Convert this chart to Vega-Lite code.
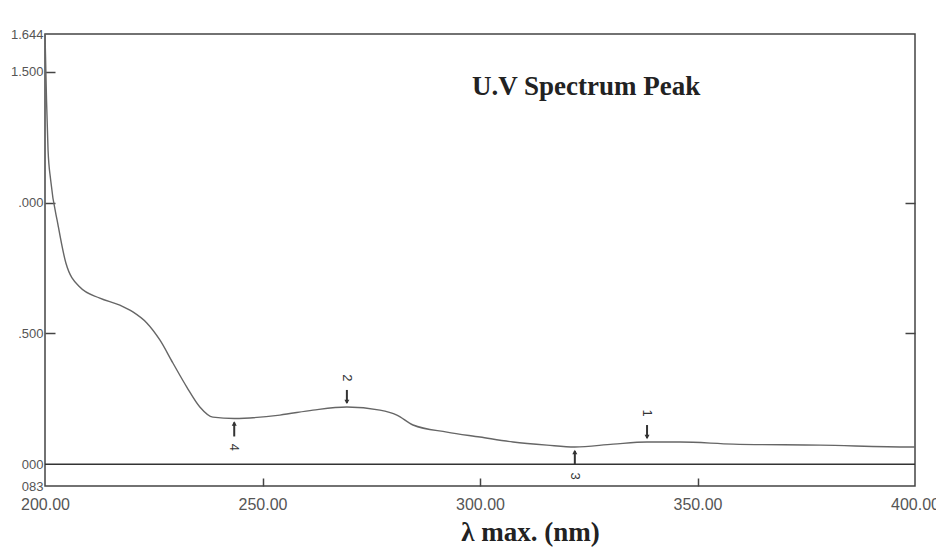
{
  "$schema": "https://vega.github.io/schema/vega-lite/v6.json",
  "width": 870,
  "height": 452,
  "autosize": {"type": "none"},
  "padding": {"left": 45, "top": 34, "right": 21, "bottom": 61},
  "background": "white",
  "title": {
    "text": "U.V Spectrum Peak",
    "anchor": "start",
    "frame": "group",
    "dx": 427,
    "dy": 77,
    "font": "Liberation Serif",
    "fontSize": 27,
    "fontWeight": "bold",
    "color": "#222"
  },
  "datasets": {
    "spectrum": [
      {"wl": 200.0, "abs": 1.644},
      {"wl": 200.35, "abs": 1.392},
      {"wl": 200.7, "abs": 1.201},
      {"wl": 201.3, "abs": 1.086},
      {"wl": 203.0, "abs": 0.914},
      {"wl": 204.8, "abs": 0.769},
      {"wl": 208.0, "abs": 0.677},
      {"wl": 212.6, "abs": 0.635},
      {"wl": 217.2, "abs": 0.608},
      {"wl": 220.2, "abs": 0.582},
      {"wl": 223.4, "abs": 0.540},
      {"wl": 226.4, "abs": 0.475},
      {"wl": 229.4, "abs": 0.387},
      {"wl": 232.6, "abs": 0.295},
      {"wl": 235.6, "abs": 0.219},
      {"wl": 238.6, "abs": 0.180},
      {"wl": 243.5, "abs": 0.175},
      {"wl": 254.0, "abs": 0.188},
      {"wl": 261.6, "abs": 0.207},
      {"wl": 269.4, "abs": 0.219},
      {"wl": 277.0, "abs": 0.207},
      {"wl": 280.9, "abs": 0.188},
      {"wl": 284.6, "abs": 0.150},
      {"wl": 292.4, "abs": 0.123},
      {"wl": 300.0, "abs": 0.104},
      {"wl": 307.6, "abs": 0.085},
      {"wl": 315.4, "abs": 0.073},
      {"wl": 321.8, "abs": 0.066},
      {"wl": 330.6, "abs": 0.077},
      {"wl": 338.4, "abs": 0.085},
      {"wl": 346.0, "abs": 0.085},
      {"wl": 358.2, "abs": 0.077},
      {"wl": 378.2, "abs": 0.073},
      {"wl": 398.9, "abs": 0.066},
      {"wl": 400.0, "abs": 0.066}
    ],
    "marks": [
      {"n": "1", "wl": 338.4, "abs": 0.085, "kind": "peak"},
      {"n": "2", "wl": 269.4, "abs": 0.219, "kind": "peak"},
      {"n": "3", "wl": 321.8, "abs": 0.066, "kind": "valley"},
      {"n": "4", "wl": 243.5, "abs": 0.175, "kind": "valley"}
    ],
    "baseline": [
      {"abs": 0}
    ]
  },
  "resolve": {"axis": {"y": "independent", "x": "independent"}},
  "layer": [
    {
      "data": {"name": "spectrum"},
      "mark": {"type": "line", "interpolate": "monotone", "color": "#666", "strokeWidth": 1.4},
      "encoding": {
        "x": {
          "field": "wl", "type": "quantitative",
          "scale": {"domain": [200, 400], "nice": false, "zero": false},
          "axis": {
            "values": [200, 250, 300, 350, 400],
            "format": ".2f",
            "ticks": false,
            "labelPadding": 10,
            "labelFontSize": 16,
            "labelFlush": false,
            "labelOverlap": false,
            "title": "λ max. (nm)",
            "titleFont": "Liberation Serif",
            "titleFontSize": 27,
            "titleFontWeight": "bold",
            "titleColor": "#222",
            "titleX": 485,
            "titleY": 54,
            "titleBaseline": "alphabetic"
          }
        },
        "y": {
          "field": "abs", "type": "quantitative",
          "scale": {"domain": [-0.083, 1.644], "nice": false, "zero": false},
          "axis": {
            "orient": "left",
            "values": [1.644, 1.5, 1.0, 0.5, 0, -0.083],
            "labelExpr": "datum.value == 1.644 ? '1.644' : datum.value == 1.5 ? '1.500' : datum.value == 1 ? '.000' : datum.value == 0.5 ? '.500' : datum.value == 0 ? '000' : '083'",
            "ticks": false,
            "labelPadding": 2,
            "labelFontSize": 13,
            "labelFlush": false,
            "labelOverlap": false,
            "title": null
          }
        }
      }
    },
    {
      "data": {"name": "baseline"},
      "mark": {"type": "rule", "color": "#333", "strokeWidth": 1.5},
      "encoding": {
        "y": {
          "field": "abs", "type": "quantitative",
          "axis": {
            "orient": "left",
            "values": [1.5, 1.0, 0.5],
            "tickSize": -10,
            "labels": false,
            "title": null
          }
        }
      }
    },
    {
      "data": {"name": "marks"},
      "transform": [{"filter": "datum.kind == 'peak'"}],
      "mark": {"type": "rule", "color": "#333", "strokeWidth": 2, "yOffset": -4, "y2Offset": -17},
      "encoding": {
        "x": {
          "field": "wl", "type": "quantitative",
          "axis": {"orient": "bottom", "values": [250, 300, 350], "tickSize": -8, "labels": false, "title": null}
        },
        "y": {
          "field": "abs", "type": "quantitative",
          "axis": {"orient": "right", "values": [1.0, 0.5], "tickSize": -10, "labels": false, "title": null}
        },
        "y2": {"field": "abs"}
      }
    },
    {
      "data": {"name": "marks"},
      "transform": [{"filter": "datum.kind == 'peak'"}],
      "mark": {"type": "point", "shape": "triangle-down", "filled": true, "color": "#333", "size": 25, "yOffset": -5, "opacity": 1},
      "encoding": {
        "x": {"field": "wl", "type": "quantitative", "axis": null},
        "y": {"field": "abs", "type": "quantitative", "axis": null}
      }
    },
    {
      "data": {"name": "marks"},
      "transform": [{"filter": "datum.kind == 'peak'"}],
      "mark": {"type": "text", "angle": 90, "yOffset": -29, "fontSize": 13, "color": "#333", "font": "Liberation Sans"},
      "encoding": {
        "x": {"field": "wl", "type": "quantitative", "axis": null},
        "y": {"field": "abs", "type": "quantitative", "axis": null},
        "text": {"field": "n"}
      }
    },
    {
      "data": {"name": "marks"},
      "transform": [{"filter": "datum.kind == 'valley'"}],
      "mark": {"type": "rule", "color": "#333", "strokeWidth": 2, "yOffset": 4, "y2Offset": 18},
      "encoding": {
        "x": {"field": "wl", "type": "quantitative", "axis": null},
        "y": {"field": "abs", "type": "quantitative", "axis": null},
        "y2": {"field": "abs"}
      }
    },
    {
      "data": {"name": "marks"},
      "transform": [{"filter": "datum.kind == 'valley'"}],
      "mark": {"type": "point", "shape": "triangle-up", "filled": true, "color": "#333", "size": 25, "yOffset": 5, "opacity": 1},
      "encoding": {
        "x": {"field": "wl", "type": "quantitative", "axis": null},
        "y": {"field": "abs", "type": "quantitative", "axis": null}
      }
    },
    {
      "data": {"name": "marks"},
      "transform": [{"filter": "datum.kind == 'valley'"}],
      "mark": {"type": "text", "angle": 90, "yOffset": 29, "fontSize": 13, "color": "#333", "font": "Liberation Sans"},
      "encoding": {
        "x": {"field": "wl", "type": "quantitative", "axis": null},
        "y": {"field": "abs", "type": "quantitative", "axis": null},
        "text": {"field": "n"}
      }
    }
  ],
  "config": {
    "view": {"stroke": "#444", "strokeWidth": 1.5},
    "axis": {
      "domain": false,
      "grid": false,
      "labelColor": "#555",
      "labelFont": "Liberation Sans",
      "tickColor": "#444",
      "tickWidth": 1.5
    }
  }
}
